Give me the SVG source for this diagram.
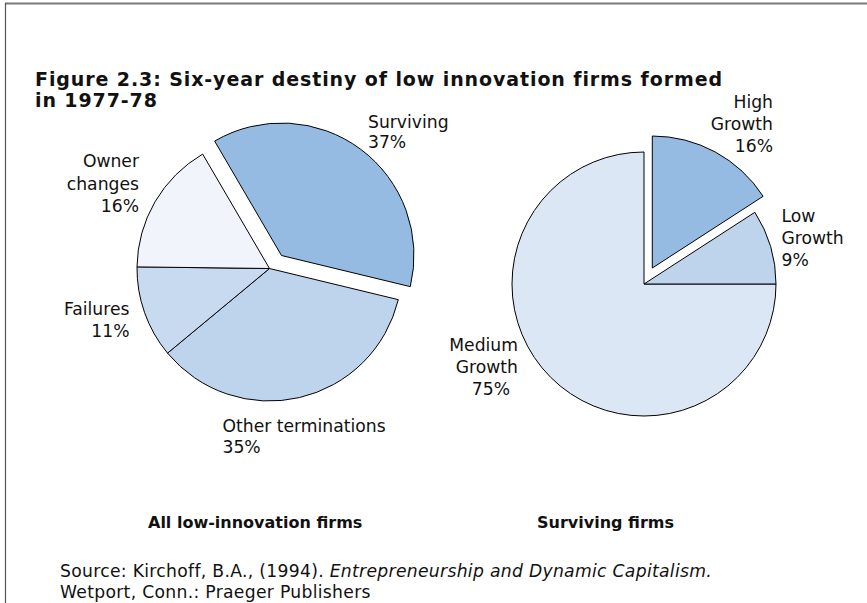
<svg xmlns="http://www.w3.org/2000/svg" width="867" height="603" viewBox="0 0 867 603">
<style>
.t{font-family:"DejaVu Sans",Verdana,sans-serif;font-size:17.2px;fill:#111}
.r{text-anchor:end}
.b{font-family:"DejaVu Sans",Verdana,sans-serif;font-weight:bold;fill:#111}
.s{stroke:#000;stroke-width:1;stroke-linejoin:round}
.c1{fill:#96BBE3}
.c2{fill:#BED4ED}
.c3{fill:#C8DAEF}
.c4{fill:#F1F5FB}
.c5{fill:#DBE7F4}
</style>
<rect width="867" height="603" fill="#fff"/>
<g id="frame" fill="none">
<line x1="5" y1="3.5" x2="867" y2="3.5" stroke="#7a7a7a" stroke-width="2"/>
<line x1="5.5" y1="3" x2="5.5" y2="603" stroke="#555" stroke-width="1.2"/>
</g>
<g id="title">
<text class="b" x="35" y="86" font-size="19" letter-spacing="0.9">Figure 2.3: Six-year destiny of low innovation firms formed</text>
<text class="b" x="35" y="106.5" font-size="19" letter-spacing="0.9">in 1977-78</text>
</g>
<g id="pie-all">
<g id="surviving">
<path class="s c1" d="M281.5 255.5 L214.65 141.1 A132.5 132.5 0 0 1 410.29 286.65 Z"/>
<text class="t" x="368" y="127.5">Surviving</text>
<text class="t" x="368" y="148">37%</text>
</g>
<g id="other-terminations">
<path class="s c2" d="M269.5 268.5 L398.3 299.65 A132.5 132.5 0 0 1 167.56 353.14 Z"/>
<text class="t" x="222.5" y="431.5">Other terminations</text>
<text class="t" x="222.5" y="453">35%</text>
</g>
<g id="failures">
<path class="s c3" d="M269.5 268.5 L167.56 353.14 A132.5 132.5 0 0 1 137.01 266.88 Z"/>
<text class="t r" x="129.5" y="315">Failures</text>
<text class="t r" x="129.5" y="337">11%</text>
</g>
<g id="owner-changes">
<path class="s c4" d="M269.5 268.5 L137.01 266.88 A132.5 132.5 0 0 1 202.65 154.1 Z"/>
<text class="t r" x="139" y="167">Owner</text>
<text class="t r" x="139" y="189.5">changes</text>
<text class="t r" x="139" y="212">16%</text>
</g>
</g>
<g id="pie-surviving">
<g id="medium-growth">
<path class="s c5" d="M644 284 L776 284 A132 132 0 1 1 644 152 Z"/>
<text class="t r" x="518" y="350.5">Medium</text>
<text class="t r" x="518" y="373">Growth</text>
<text class="t r" x="510" y="394.5">75%</text>
</g>
<g id="low-growth">
<path class="s c2" d="M644 284 L754.83 212.3 A132 132 0 0 1 776 284 Z"/>
<text class="t" x="781.5" y="222">Low</text>
<text class="t" x="781.5" y="244">Growth</text>
<text class="t" x="781.5" y="265.5">9%</text>
</g>
<g id="high-growth">
<path class="s c1" d="M652.3 268 L652.3 136 A132 132 0 0 1 763.13 196.3 Z"/>
<text class="t r" x="773" y="108">High</text>
<text class="t r" x="773" y="130">Growth</text>
<text class="t r" x="773" y="151.5">16%</text>
</g>
</g>
<g id="captions">
<text class="b" x="148" y="528" font-size="16">All low-innovation firms</text>
<text class="b" x="537" y="528" font-size="16">Surviving firms</text>
</g>
<g id="source">
<text class="t" x="60" y="577" font-size="18" letter-spacing="0.3">Source: Kirchoff, B.A., (1994). <tspan font-style="italic">Entrepreneurship and Dynamic Capitalism.</tspan></text>
<text class="t" x="60" y="598" font-size="18" letter-spacing="0.3">Wetport, Conn.: Praeger Publishers</text>
</g>
</svg>
